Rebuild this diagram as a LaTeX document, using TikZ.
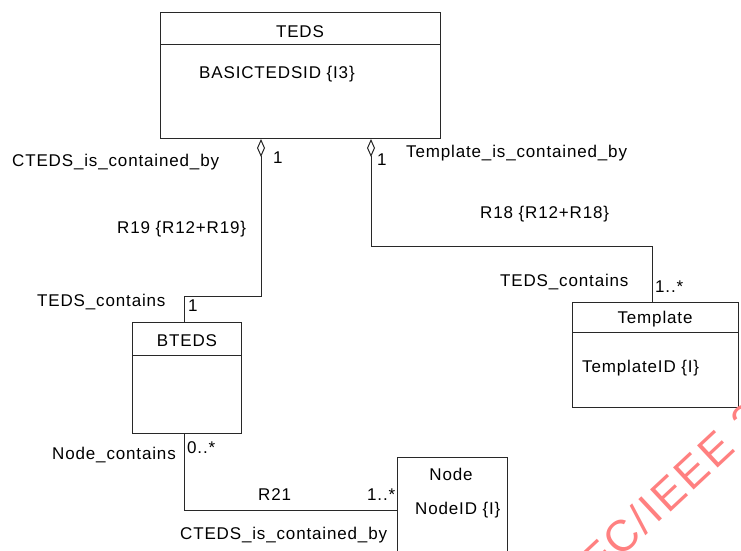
\documentclass[tikz,border=0pt]{standalone}
\usepackage{fontspec}
\setmainfont{Liberation Sans}
\newfontfamily\labfont{Liberation Sans}[LetterSpace=5]
\newfontfamily\wmfont{Liberation Sans}[LetterSpace=7]
\usetikzlibrary{arrows.meta,calc}
\definecolor{wm}{RGB}{255,128,128}
\definecolor{ln}{RGB}{40,40,40}
\begin{document}
\begin{tikzpicture}[x=1pt,y=-1pt,
  lab/.style={inner sep=0pt, anchor=base west, font=\labfont\fontsize{17}{20}\selectfont},
  ttl/.style={inner sep=0pt, anchor=base, font=\labfont\fontsize{17}{20}\selectfont},
  box/.style={draw=ln, line width=1pt, rectangle, inner sep=0pt, anchor=north west},
  conn/.style={draw=ln, line width=1pt},
  agg/.style={{Diamond[open,length=18pt,width=8pt]}-},
  wmtext/.style={rotate=43, text=wm, inner sep=0pt, font=\wmfont\fontsize{44}{44}\selectfont}
]
\useasboundingbox (0,0) rectangle (741,550);
\fill[white] (0,0) rectangle (741,550);
\begin{scope}
\clip (0,0) rectangle (741,550);
% boxes
\node[box, minimum width=280pt, minimum height=126pt] (teds) at (160,12) {};
\node[box, minimum width=109pt, minimum height=111pt] (bteds) at (132,322) {};
\node[box, minimum width=166pt, minimum height=105pt] (template) at (572,302) {};
\node[box, minimum width=110pt, minimum height=110pt] (node) at (397,457) {};
% dividers
\draw[conn] ($(teds.north west)+(0,32)$) -- ($(teds.north east)+(0,32)$);
\draw[conn] ($(bteds.north west)+(0,33)$) -- ($(bteds.north east)+(0,33)$);
\draw[conn] ($(template.north west)+(0,30)$) -- ($(template.north east)+(0,30)$);
% box texts
\node[ttl] (tedsT) at (300,37) {TEDS};
\node[lab] (tedsA) at (199,78) {BASICTEDSID \{I3\}};
\node[ttl] (btedsT) at (187,346) {BTEDS};
\node[ttl] (templT) at (655,323) {Template};
\node[lab] (templA) at (582,372) {TemplateID \{I\}};
\node[ttl] (nodeT) at (451,480) {Node};
\node[lab] (nodeA) at (415,514) {NodeID \{I\}};
% connectors
\coordinate (s1) at ($(teds.south west)+(101,0)$);
\coordinate (s2) at ($(teds.south west)+(211,0)$);
\coordinate (e1) at ($(bteds.north west)+(52,0)$);
\coordinate (e2) at ($(template.north west)+(80,0)$);
\coordinate (b2) at ($(bteds.south west)+(52,0)$);
\coordinate (n1) at ($(node.north west)+(0,53)$);
\draw[conn,agg] (s1) -- ++(0,157) -| (e1);
\draw[conn,agg] (s2) -- ++(0,107) -| (e2);
\draw[conn] (b2) |- (n1);
% labels
\node[lab] (l1) at (12,166) {CTEDS\_is\_contained\_by};
\node[lab] (l2) at (273,163) {1};
\node[lab] (l3) at (377,165) {1};
\node[lab] (l4) at (406,157) {Template\_is\_contained\_by};
\node[lab] (l5) at (117,233) {R19 \{R12+R19\}};
\node[lab] (l6) at (480,218) {R18 \{R12+R18\}};
\node[lab] (l7) at (37,306) {TEDS\_contains};
\node[lab] (l8) at (188,311) {1};
\node[lab] (l9) at (500,286) {TEDS\_contains};
\node[lab] (l10) at (655,292) {1..*};
\node[lab] (l11) at (52,459) {Node\_contains};
\node[lab] (l12) at (187,453) {0..*};
\node[lab] (l13) at (258,500) {R21};
\node[lab] (l14) at (367,500) {1..*};
\node[lab] (l15) at (180,539) {CTEDS\_is\_contained\_by};
% watermark
\coordinate (wp) at (620,559);
\node[wmtext, anchor=base west] (wmB) at (wp) {C/IEEE 2};
\node[wmtext, anchor=base east] (wmA) at (wp) {IE};
\end{scope}
\end{tikzpicture}
\end{document}
